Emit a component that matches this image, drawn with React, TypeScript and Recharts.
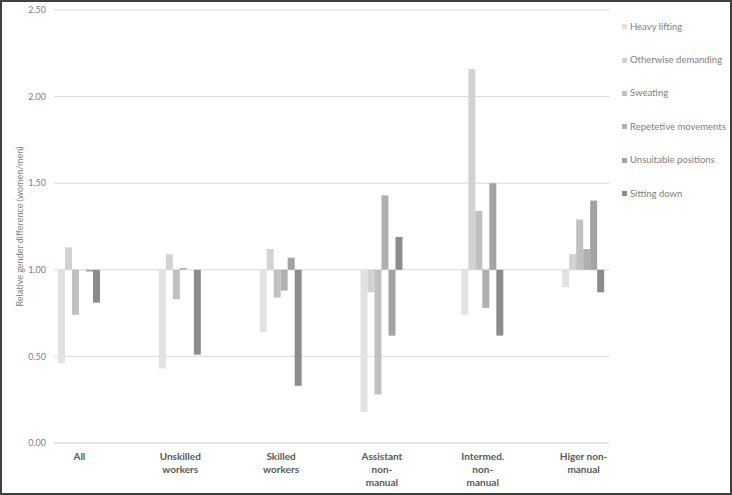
import { BarChart, Bar, XAxis, YAxis, CartesianGrid } from 'recharts';

const categories = ['All', 'Unskilled workers', 'Skilled workers', 'Assistant non-manual', 'Intermed. non-manual', 'Higer non-manual'];
const tickLines: Record<string, string[]> = {
  'All': ['All'],
  'Unskilled workers': ['Unskilled', 'workers'],
  'Skilled workers': ['Skilled', 'workers'],
  'Assistant non-manual': ['Assistant', 'non-', 'manual'],
  'Intermed. non-manual': ['Intermed.', 'non-', 'manual'],
  'Higer non-manual': ['Higer non-', 'manual'],
};

const heavyLifting = [0.46, 0.43, 0.64, 0.18, 0.74, 0.9];
const otherwiseDemanding = [1.13, 1.09, 1.12, 0.87, 2.16, 1.09];
const sweating = [0.74, 0.83, 0.84, 0.28, 1.34, 1.29];
const repetetive = [1.0, 1.01, 0.88, 1.43, 0.78, 1.12];
const unsuitable = [0.99, 1.0, 1.07, 0.62, 1.5, 1.4];
const sittingDown = [0.81, 0.51, 0.33, 1.19, 0.62, 0.87];

const yTicks = [0, 0.5, 1, 1.5, 2, 2.5];

const series = [
  { key: 'heavy', name: 'Heavy lifting', values: heavyLifting, color: '#e2e2e2' },
  { key: 'other', name: 'Otherwise demanding', values: otherwiseDemanding, color: '#d2d2d2' },
  { key: 'sweat', name: 'Sweating', values: sweating, color: '#c0c0c0' },
  { key: 'rep', name: 'Repetetive movements', values: repetetive, color: '#b0b0b0' },
  { key: 'unsuit', name: 'Unsuitable positions', values: unsuitable, color: '#a3a3a3' },
  { key: 'sit', name: 'Sitting down', values: sittingDown, color: '#8c8c8c' },
];

// bars hang from the 1.00 line, so each value becomes a [1, v] range
const rows = categories.map((c, i) => {
  const r: any = { name: c };
  series.forEach(s => { r[s.key] = [1, s.values[i]]; });
  return r;
});

const font = 'Lato, "Open Sans", sans-serif';

const CatTick = ({ x, y, payload }: any) => {
  const lines = tickLines[payload.value] || [payload.value];
  return (
    <text x={x} y={y + 9} textAnchor="middle" fontSize={10} fontWeight="bold" fill="#595959" fontFamily={font}>
      {lines.map((l, i) => (
        <tspan key={i} x={x} dy={i === 0 ? 0 : 13}>{l}</tspan>
      ))}
    </text>
  );
};

export default function App() {
  return (
    <div style={{ position: 'absolute', left: 0, top: 0, width: 732, height: 495, background: '#fff', fontFamily: font }}>
      <BarChart width={732} height={495} data={rows} margin={{ top: 10, right: 123, bottom: 0, left: 0 }} barGap={0} barSize={7}>
        <CartesianGrid horizontal vertical={false} stroke="#d9d9d9" />
        <XAxis dataKey="name" height={52} padding={{ left: -25, right: -25 }} axisLine={{ stroke: '#d9d9d9' }} tickLine={false} tick={<CatTick />} interval={0} />
        <YAxis
          width={54}
          domain={[0, 2.5]}
          ticks={yTicks}
          tickFormatter={(v: number) => v.toFixed(2)}
          axisLine={false}
          tickLine={false}
          tick={{ fontSize: 9, fill: '#808080', fontFamily: font }}
          label={{ value: 'Relative gender difference (women/men)', angle: -90, position: 'insideLeft', offset: 20, style: { textAnchor: 'middle', fontSize: 9, fill: '#808080', fontFamily: font } }}
        />
        {series.map(s => (
          <Bar key={s.key} dataKey={s.key} name={s.name} fill={s.color} isAnimationActive={false} />
        ))}
      </BarChart>
      <div style={{ position: 'absolute', left: 622, top: 10 }}>
        {series.map(s => (
          <div key={s.key} style={{ height: 33.4, display: 'flex', alignItems: 'center', fontSize: 9.5, color: '#808080', lineHeight: '14px', whiteSpace: 'nowrap' }}>
            <span style={{ display: 'inline-block', width: 5, height: 5, background: s.color, marginRight: 3 }} />
            {s.name}
          </div>
        ))}
      </div>
      <div style={{ position: 'absolute', inset: 0, border: '2px solid #404040', pointerEvents: 'none' }} />
    </div>
  );
}
